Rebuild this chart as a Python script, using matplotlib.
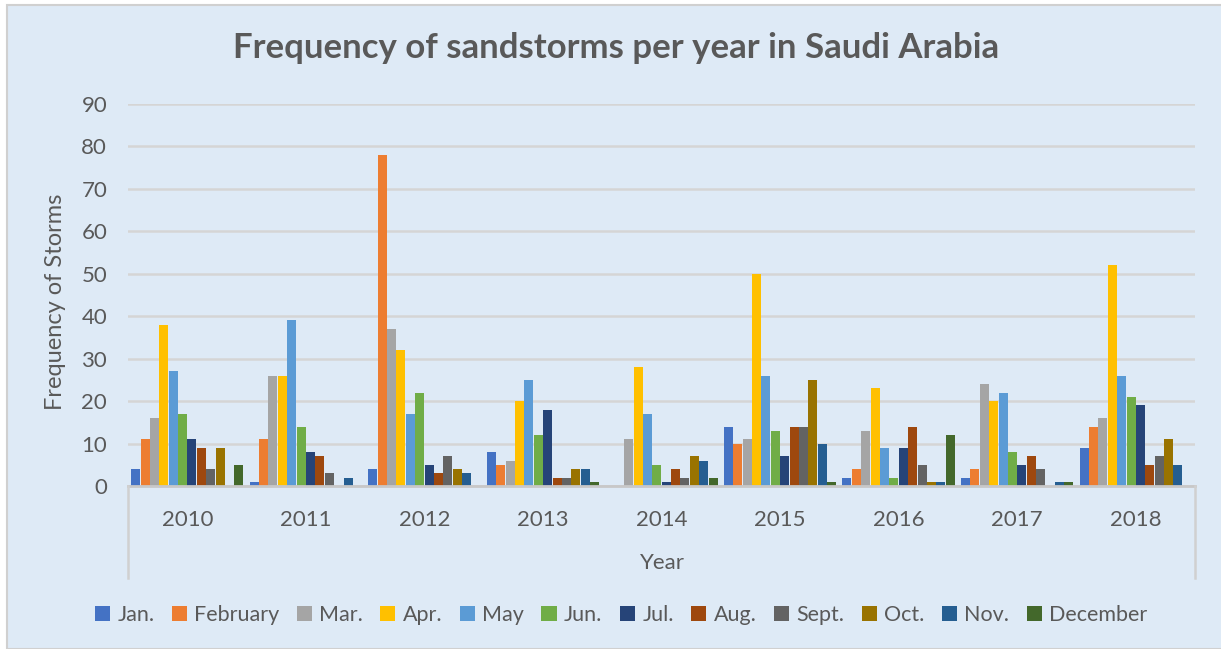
import matplotlib
matplotlib.use("Agg")
import matplotlib.pyplot as plt
import numpy as np
from matplotlib.patches import Rectangle
from matplotlib.lines import Line2D

years = ["2010", "2011", "2012", "2013", "2014", "2015", "2016", "2017", "2018"]
months = ["Jan.", "February", "Mar.", "Apr.", "May", "Jun.", "Jul.", "Aug.",
          "Sept.", "Oct.", "Nov.", "December"]

jan = [4, 1, 4, 8, 0, 14, 2, 2, 9]
feb = [11, 11, 78, 5, 0, 10, 4, 4, 14]
mar = [16, 26, 37, 6, 11, 11, 13, 24, 16]
apr = [38, 26, 32, 20, 28, 50, 23, 20, 52]
may = [27, 39, 17, 25, 17, 26, 9, 22, 26]
jun = [17, 14, 22, 12, 5, 13, 2, 8, 21]
jul = [11, 8, 5, 18, 1, 7, 9, 5, 19]
aug = [9, 7, 3, 2, 4, 14, 14, 7, 5]
sep = [4, 3, 7, 2, 2, 14, 5, 4, 7]
oct_ = [9, 0, 4, 4, 7, 25, 1, 0, 11]
nov = [0, 2, 3, 4, 6, 10, 1, 1, 5]
dec = [5, 0, 0, 1, 2, 1, 12, 1, 0]

series = [jan, feb, mar, apr, may, jun, jul, aug, sep, oct_, nov, dec]
colors = ["#4472C4", "#ED7D31", "#A5A5A5", "#FFC000", "#5B9BD5", "#70AD47",
          "#264478", "#9E480E", "#636363", "#997300", "#255E91", "#43682B"]

W, H = 1221, 649
fig = plt.figure(figsize=(W / 100, H / 100), dpi=100, facecolor="white")
bg = "#DEEAF6"
fig.patches.append(Rectangle((7 / W, 0), 1.0, 1 - 5 / H, transform=fig.transFigure,
                             facecolor=bg, edgecolor="#D0D0D0", linewidth=1.5, zorder=-10))

font = ["Lato", "DejaVu Sans"]
txt = "#595959"

ax = fig.add_axes([128 / W, 1 - 486 / H, (1195 - 128) / W, (486 - 104) / H])
ax.set_zorder(2)
ax.patch.set_alpha(0)

n = len(series)
gw = 0.95
bw = gw / n
x = np.arange(len(years))
for i, (vals, c, m) in enumerate(zip(series, colors, months)):
    off = -gw / 2 + bw * (i + 0.5)
    ax.bar(x + off, vals, width=bw * 0.96, color=c, label=m, zorder=3, linewidth=0)

ax.set_xlim(-0.5, len(years) - 0.5)
ax.set_ylim(0, 90)
ax.set_yticks(range(0, 91, 10))
ax.grid(axis="y", color="#D5D5D5", linewidth=1.8, zorder=0)
for s in ["top", "right", "left"]:
    ax.spines[s].set_visible(False)
ax.spines["bottom"].set_color("#C8C8C8")
ax.spines["bottom"].set_linewidth(2)
ax.spines["bottom"].set_zorder(4)
ax.tick_params(axis="y", length=0, pad=15, labelsize=16, labelcolor=txt)
ax.tick_params(axis="x", length=0, pad=17, labelsize=16, labelcolor=txt)
ax.set_xticks(x)
ax.set_xticklabels(years)
for lab in ax.get_xticklabels() + ax.get_yticklabels():
    lab.set_family(font)

for xx in (128, 1195):
    fig.lines.append(Line2D([xx / W, xx / W], [1 - 486 / H, 1 - 578 / H],
                            transform=fig.transFigure, color="#D0D0D0", linewidth=1.8))

fig.text(616 / W, 1 - 48 / H, "Frequency of sandstorms per year in Saudi Arabia",
         ha="center", va="center", fontsize=25, fontweight="bold", color=txt, family=font)
fig.text(662 / W, 1 - 563 / H, "Year", ha="center", va="center", fontsize=16,
         color=txt, family=font)
fig.text(55 / W, 1 - 302 / H, "Frequency of Storms", ha="center", va="center",
         rotation=90, fontsize=17, color=txt, family=font)

leg = fig.legend(loc="center", bbox_to_anchor=(621 / W, 1 - 615 / H), ncol=12,
                 frameon=False, handlelength=0.7, handleheight=0.7,
                 handletextpad=0.35, columnspacing=0.8, prop={"family": font, "size": 15.5})
for t in leg.get_texts():
    t.set_color(txt)

fig.savefig("out.png", dpi=100, facecolor="white")
